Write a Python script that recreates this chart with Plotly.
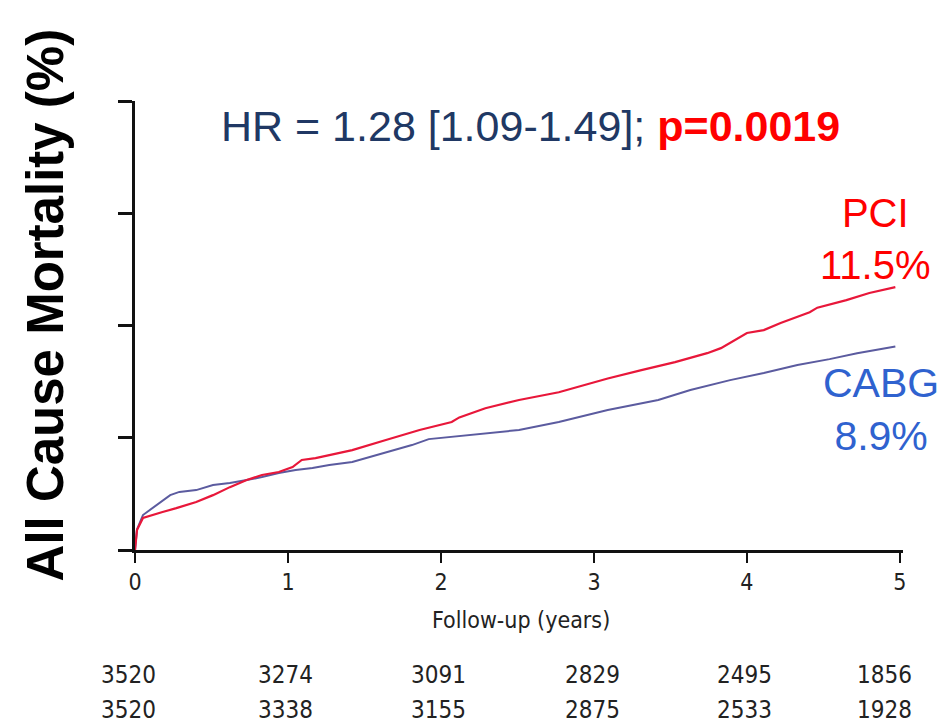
import plotly.graph_objects as go

# Cumulative all-cause mortality (%) by follow-up time (years)
pci_years = [0, 0.013, 0.052, 0.098, 0.18, 0.27, 0.40, 0.51, 0.62, 0.73, 0.83, 0.94,
             1.03, 1.09, 1.18, 1.27, 1.42, 1.64, 1.86, 2.07, 2.12, 2.29, 2.51, 2.77,
             3.09, 3.31, 3.53, 3.74, 3.83, 4.00, 4.11, 4.22, 4.41, 4.46, 4.65, 4.80, 4.97]
pci_mort = [0, 0.87, 1.40, 1.50, 1.66, 1.83, 2.10, 2.40, 2.75, 3.06, 3.28, 3.41,
            3.63, 3.94, 4.02, 4.15, 4.37, 4.81, 5.25, 5.60, 5.80, 6.20, 6.56, 6.90,
            7.50, 7.87, 8.22, 8.61, 8.83, 9.49, 9.62, 9.93, 10.40, 10.60, 10.93, 11.24, 11.5]

cabg_years = [0, 0.013, 0.052, 0.14, 0.23, 0.29, 0.40, 0.51, 0.62, 0.73, 0.83, 0.94,
              1.05, 1.16, 1.27, 1.42, 1.64, 1.81, 1.92, 2.18, 2.51, 2.77, 3.09, 3.42,
              3.63, 3.89, 4.11, 4.33, 4.54, 4.72, 4.97]
cabg_mort = [0, 0.90, 1.53, 1.97, 2.40, 2.54, 2.62, 2.84, 2.93, 3.06, 3.19, 3.37,
             3.50, 3.59, 3.72, 3.85, 4.28, 4.59, 4.85, 5.03, 5.25, 5.60, 6.12, 6.56,
             7.00, 7.43, 7.74, 8.09, 8.35, 8.61, 8.9]

x_ticks = [0, 1, 2, 3, 4, 5]
y_ticks = [0, 4.91, 9.82, 14.73, 19.64]

# Numbers at risk at each yearly tick
at_risk_top = [3520, 3274, 3091, 2829, 2495, 1856]
at_risk_bottom = [3520, 3338, 3155, 2875, 2533, 1928]

PCI_RED = "#e8173a"
CABG_LINE = "#5b5b9f"
LABEL_RED = "#ff0000"
LABEL_BLUE = "#2f62cf"
NAVY = "#203864"
NARROW = "Liberation Sans Narrow, DejaVu Sans Condensed, Arial Narrow, sans-serif"
ARIAL = "Liberation Sans, Arial, sans-serif"

fig = go.Figure()
fig.add_trace(go.Scatter(x=cabg_years, y=cabg_mort, mode="lines", name="CABG",
                         line=dict(color=CABG_LINE, width=2)))
fig.add_trace(go.Scatter(x=pci_years, y=pci_mort, mode="lines", name="PCI",
                         line=dict(color=PCI_RED, width=2.2)))

fig.update_layout(
    width=945, height=725,
    margin=dict(l=135, r=42, t=101, b=175),
    plot_bgcolor="white", paper_bgcolor="white",
    showlegend=False,
    xaxis=dict(range=[0, 5.02], tickvals=x_ticks, ticktext=[str(t) for t in x_ticks],
               showgrid=False, zeroline=False, showline=True, linecolor="#111",
               linewidth=2.5, ticks="outside", ticklen=10, tickwidth=2, tickcolor="#111",
               tickfont=dict(family=NARROW, size=23, color="#222")),
    yaxis=dict(range=[0, 19.64], tickvals=y_ticks, showticklabels=False,
               showgrid=False, zeroline=False, showline=True, linecolor="#111",
               linewidth=2.5, ticks="outside", ticklen=14, tickwidth=2.5, tickcolor="#111"),
)

annotations = [
    dict(text="All Cause Mortality (%)", xref="paper", yref="paper", x=-0.117, y=0.545,
         textangle=-90, showarrow=False, xanchor="center", yanchor="middle",
         font=dict(family=ARIAL, size=51, color="black", weight="bold")),
    dict(text="HR = 1.28 [1.09-1.49]; <b><span style='color:" + LABEL_RED + "'>p=0.0019</span></b>",
         xref="paper", yref="paper", x=0.515, y=0.945, showarrow=False,
         xanchor="center", yanchor="middle", font=dict(family=ARIAL, size=43, color=NAVY)),
    dict(text="PCI<br>11.5%", xref="paper", yref="paper", x=1.038, y=0.692,
         showarrow=False, xanchor="right", yanchor="middle", align="center",
         font=dict(family=ARIAL, size=40, color=LABEL_RED)),
    dict(text="CABG<br>8.9%", xref="paper", yref="paper", x=1.05, y=0.312,
         showarrow=False, xanchor="right", yanchor="middle", align="center",
         font=dict(family=ARIAL, size=41, color=LABEL_BLUE)),
    dict(text="Follow-up (years)", xref="paper", yref="paper", x=0.502, y=-0.155,
         showarrow=False, xanchor="center", yanchor="middle",
         font=dict(family=NARROW, size=23, color="#222")),
]

shifts = [-7, -2, -2, -1, -2, -15]
for yr, top, bottom, sh in zip(x_ticks, at_risk_top, at_risk_bottom, shifts):
    annotations.append(dict(text=str(top), x=yr, xref="x", y=-0.278, yref="paper",
                            xshift=sh, showarrow=False, xanchor="center", yanchor="middle",
                            font=dict(family=NARROW, size=24, color="#222")))
    annotations.append(dict(text=str(bottom), x=yr, xref="x", y=-0.356, yref="paper",
                            xshift=sh, showarrow=False, xanchor="center", yanchor="middle",
                            font=dict(family=NARROW, size=24, color="#222")))

fig.update_layout(annotations=annotations)
fig.write_html("out.html")
